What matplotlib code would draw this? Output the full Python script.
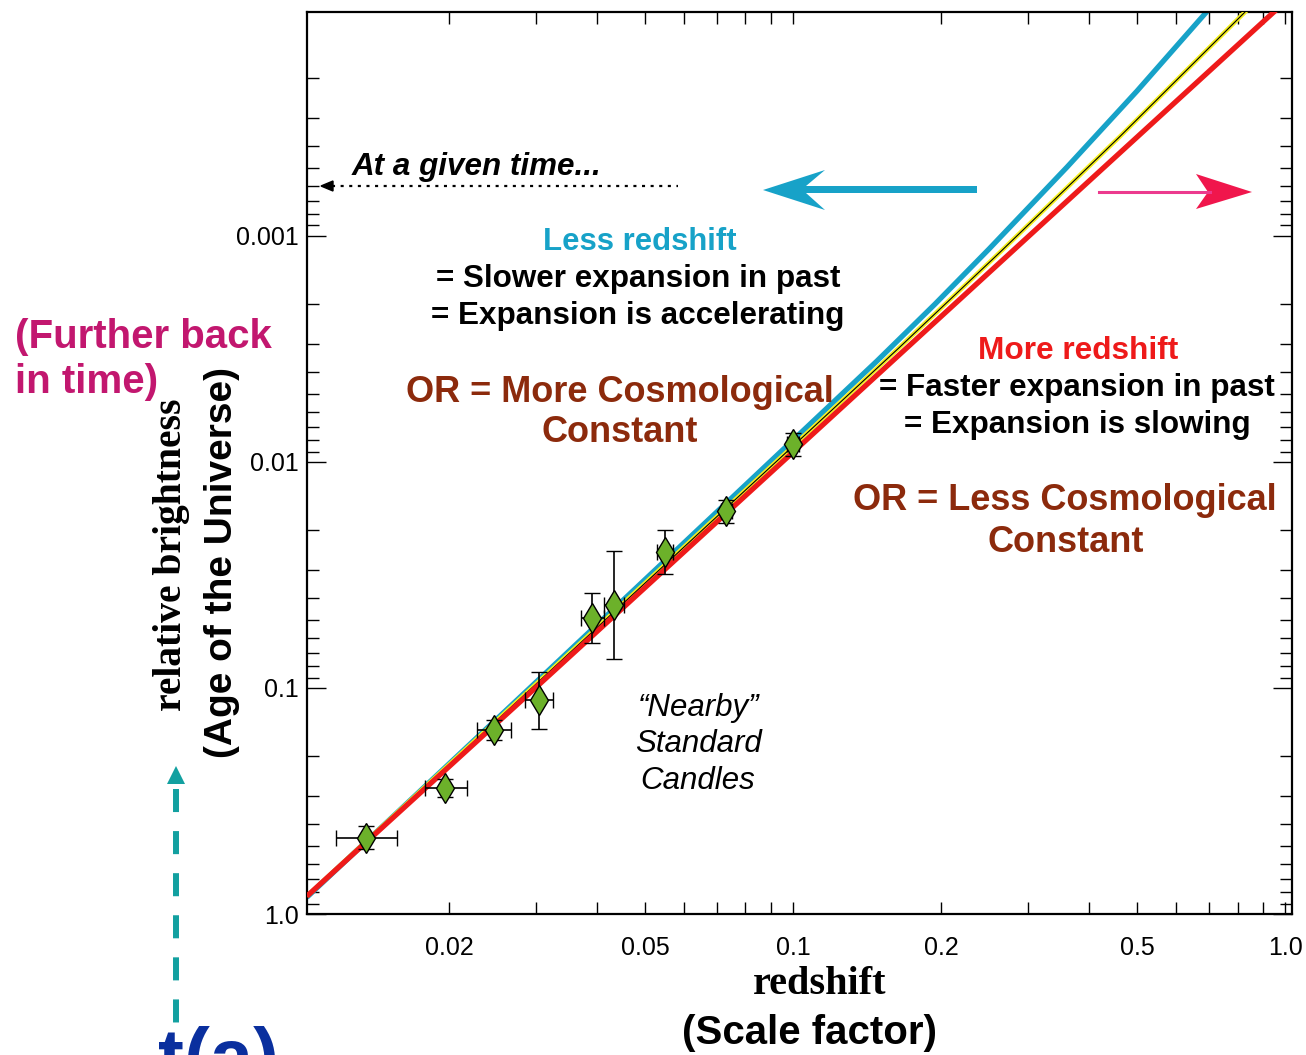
import matplotlib
matplotlib.use("Agg")
import matplotlib.pyplot as plt
import numpy as np
from matplotlib.lines import Line2D
from matplotlib.patches import Polygon
from matplotlib.ticker import FixedLocator, FixedFormatter, LogLocator, NullFormatter

# nearby supernovae: redshift, relative brightness and error bar ends
z_sn = [0.01358, 0.01965, 0.02464, 0.03041, 0.03904, 0.04326, 0.0550, 0.0730, 0.0997]
b_sn = [0.459, 0.277, 0.154, 0.113, 0.0488, 0.0428, 0.0250, 0.0165, 0.00835]
z_lo = [0.01176, 0.01784, 0.02279, 0.02849, 0.03703, 0.04129, 0.0528, 0.0712, 0.0971]
z_hi = [0.01570, 0.02175, 0.02669, 0.03252, 0.04123, 0.04527, 0.0570, 0.0752, 0.1027]
b_lo = [0.409, 0.252, 0.139, 0.0849, 0.0380, 0.0248, 0.0201, 0.01477, 0.00744]
b_hi = [0.517, 0.304, 0.170, 0.1512, 0.0630, 0.0744, 0.0312, 0.01862, 0.00943]

# model curves
z_blue = [0.01027, 0.0300, 0.0999, 0.1479, 0.1941, 0.2499, 0.3600, 0.4995, 0.7029]
b_blue = [0.844, 0.0944, 0.00802, 0.003584, 0.002006, 0.001145, 4.97e-4, 2.29e-4, 9.83e-5]
z_yel = [0.01027, 0.0300, 0.0999, 0.1647, 0.2631, 0.4617, 0.8359]
b_yel = [0.835, 0.0963, 0.00852, 0.003105, 0.001183, 3.63e-4, 1.003e-4]
z_red = [0.01027, 0.0300, 0.0999, 0.3027, 0.9574]
b_red = [0.835, 0.0995, 0.00906, 9.93e-4, 1.003e-4]

x_ticks = [0.02, 0.03, 0.04, 0.05, 0.06, 0.07, 0.08, 0.09,
           0.1, 0.2, 0.3, 0.4, 0.5, 0.6, 0.7, 0.8, 0.9, 1.0]
x_labels = ["0.02", "", "", "0.05", "", "", "", "",
            "0.1", "0.2", "", "", "0.5", "", "", "", "", "1.0"]
y_ticks = [0.001, 0.01, 0.1, 1.0]
y_labels = ["0.001", "0.01", "0.1", "1.0"]

W, H = 1306, 1055
BLUE = "#17a2c8"
RED = "#ee1a1a"
YELLOW = "#f4ef1e"
BROWN = "#8c2a0c"
MAGENTA = "#c2176f"
TEAL = "#12a0a0"
SERIF = ['Liberation Serif', 'DejaVu Serif']

plt.rcParams['font.family'] = ['Liberation Sans', 'DejaVu Sans']
plt.rcParams['lines.scale_dashes'] = False


def fx(x):
    return x / W


def fy(y):
    return 1 - y / H


fig = plt.figure(figsize=(W / 100, H / 100), dpi=100)
ax = fig.add_axes([fx(307), fy(914), fx(1292) - fx(307), fy(12) - fy(914)])
ax.set_xscale("log")
ax.set_yscale("log")

ax.plot(z_blue, b_blue, color=BLUE, lw=3.8, solid_capstyle='butt', zorder=2)
ax.plot(z_yel, b_yel, color=YELLOW, lw=3.2, solid_capstyle='butt', zorder=3)
ax.plot(z_yel, b_yel, color="black", lw=0.8, zorder=3)
ax.plot(z_red, b_red, color=RED, lw=3.8, solid_capstyle='butt', zorder=4)

z = np.array(z_sn)
b = np.array(b_sn)
xerr = [z - np.array(z_lo), np.array(z_hi) - z]
yerr = [b - np.array(b_lo), np.array(b_hi) - b]
ax.errorbar(z, b, xerr=xerr, yerr=yerr, fmt='d', ms=15, mfc="#6cb12a", mec="black",
            mew=1, ecolor="black", elinewidth=1.2, capsize=5.5, capthick=1.2, zorder=5)

ax.set_xlim(0.01028, 1.032)
ax.set_ylim(1.0, 1.023e-4)

ax.xaxis.set_major_locator(FixedLocator(x_ticks))
ax.xaxis.set_major_formatter(FixedFormatter(x_labels))
ax.xaxis.set_minor_locator(FixedLocator([]))
ax.yaxis.set_major_locator(FixedLocator(y_ticks))
ax.yaxis.set_major_formatter(FixedFormatter(y_labels))
ax.yaxis.set_minor_locator(LogLocator(base=10, subs=np.arange(2, 10)))
ax.yaxis.set_minor_formatter(NullFormatter())

ax.tick_params(which='both', direction='in', top=True, right=True, width=1, labelsize=18)
ax.tick_params(axis='x', which='major', length=8.6, pad=16)
ax.tick_params(axis='y', which='major', length=14, pad=6)
ax.tick_params(axis='y', which='minor', length=8.6)
for s in ax.spines.values():
    s.set_linewidth(1.6)

# annotations inside the plot
fig.text(fx(640), fy(242), "Less redshift", color=BLUE, fontsize=22.4, fontweight='bold',
         ha='center', va='center')
fig.text(fx(638), fy(279), "= Slower expansion in past", fontsize=22.6, fontweight='bold',
         ha='center', va='center')
fig.text(fx(638), fy(316), "= Expansion is accelerating", fontsize=22.6, fontweight='bold',
         ha='center', va='center')
fig.text(fx(620), fy(393), "OR = More Cosmological", color=BROWN, fontsize=26,
         fontweight='bold', ha='center', va='center')
fig.text(fx(620), fy(433), "Constant", color=BROWN, fontsize=26, fontweight='bold',
         ha='center', va='center')

fig.text(fx(1078), fy(351), "More redshift", color=RED, fontsize=22.8, fontweight='bold',
         ha='center', va='center')
fig.text(fx(1077), fy(388), "= Faster expansion in past", fontsize=22.6, fontweight='bold',
         ha='center', va='center')
fig.text(fx(1077), fy(425), "= Expansion is slowing", fontsize=22.6, fontweight='bold',
         ha='center', va='center')
fig.text(fx(1065), fy(501), "OR = Less Cosmological", color=BROWN, fontsize=26,
         fontweight='bold', ha='center', va='center')
fig.text(fx(1066), fy(543), "Constant", color=BROWN, fontsize=26, fontweight='bold',
         ha='center', va='center')

for txt, yy in [("\u201cNearby\u201d", 708), ("Standard", 744), ("Candles", 781)]:
    fig.text(fx(698), fy(yy), txt, fontsize=22.5, fontstyle='italic', ha='center', va='center')

fig.text(fx(352), fy(167), "At a given time...", fontsize=22.6, fontweight='bold',
         fontstyle='italic', ha='left', va='center')

# dotted arrow
fig.add_artist(Line2D([fx(332), fx(678)], [fy(186), fy(186)], color="black", lw=1.6,
                      dashes=(2.2, 4.0), transform=fig.transFigure))
fig.add_artist(Polygon([[fx(321), fy(186)], [fx(333), fy(181)], [fx(333), fy(191)]],
                       closed=True, color="black", transform=fig.transFigure))

# big blue arrow
blue_arrow = [(763, 190), (825, 170), (806, 186), (977, 186), (977, 193),
              (806, 193), (825, 210)]
fig.add_artist(Polygon([[fx(x), fy(y)] for x, y in blue_arrow], closed=True,
                       color=BLUE, lw=0, transform=fig.transFigure))

# pink arrow
fig.add_artist(Line2D([fx(1099), fx(1210)], [fy(192), fy(192)], color="#ec3a8e", lw=2.2,
                      transform=fig.transFigure))
pink_head = [(1252, 192), (1196, 174), (1208, 192), (1196, 209)]
fig.add_artist(Polygon([[fx(x), fy(y)] for x, y in pink_head], closed=True,
                       color="#f0164c", lw=0, transform=fig.transFigure))

# axis labels
fig.text(fx(172), fy(555), "relative brightness", family=SERIF,
         fontsize=28.5, fontweight='bold', rotation=90, ha='center', va='center')
fig.text(fx(222), fy(563), "(Age of the Universe)", fontsize=28, fontweight='bold',
         rotation=90, ha='center', va='center')
fig.text(fx(820), fy(985), "redshift", family=SERIF,
         fontsize=29, fontweight='bold', ha='center', va='center')
fig.text(fx(810), fy(1033), "(Scale factor)", fontsize=29, fontweight='bold',
         ha='center', va='center')

fig.text(fx(15), fy(337), "(Further back", color=MAGENTA, fontsize=29, fontweight='bold',
         ha='left', va='center')
fig.text(fx(15), fy(382), "in time)", color=MAGENTA, fontsize=29, fontweight='bold',
         ha='left', va='center')

# teal dashed arrow on the left
fig.add_artist(Line2D([fx(176), fx(176)], [fy(789), fy(1023)], color=TEAL, lw=4.3,
                      dashes=(16.6, 13.7), transform=fig.transFigure))
fig.add_artist(Polygon([[fx(176), fy(766)], [fx(167), fy(784)], [fx(185), fy(784)]],
                       closed=True, color=TEAL, lw=0, transform=fig.transFigure))

# big label at the bottom edge, cut off as in the original slide
fig.text(fx(158), fy(1026), "t(a)", color="#0a2f9e", fontsize=56, fontweight='bold',
         ha='left', va='top')

plt.savefig("out.png", dpi=100)
